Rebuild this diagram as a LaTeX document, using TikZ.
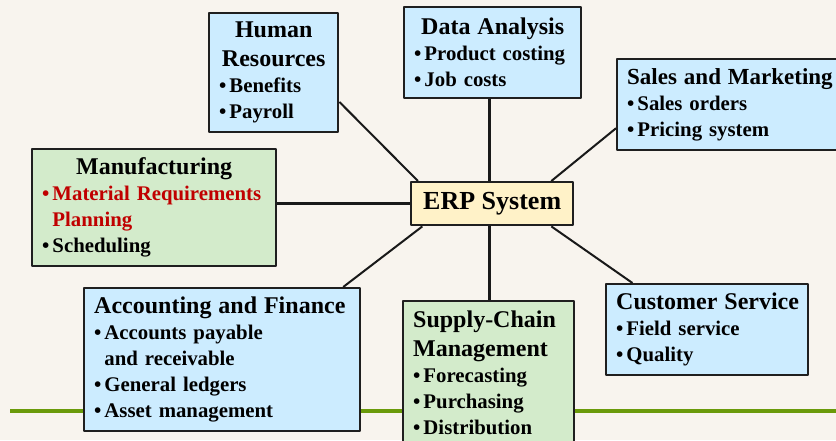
\documentclass[tikz,border=0pt]{standalone}
\usepackage{fontspec}
\setmainfont{Liberation Serif}

\definecolor{paper}{HTML}{F8F4EE}
\definecolor{modblue}{HTML}{CCECFF}
\definecolor{modgreen}{HTML}{D3EBCB}
\definecolor{erpyellow}{HTML}{FFF2C8}
\definecolor{mrpred}{HTML}{C00000}
\definecolor{rulegreen}{HTML}{6A9A0A}

\newcommand\itm{\textbullet\hspace{1.5pt}}
\newcommand\headfont{\fontsize{12}{14.5}\selectfont}

\tikzset{
    module/.style={draw=black!88, line width=1.2pt, anchor=north west, align=left,
        inner xsep=5pt, inner ysep=2pt, font=\bfseries\fontsize{10.4}{13}\selectfont},
    bluemod/.style={module, fill=modblue},
    greenmod/.style={module, fill=modgreen},
    thinlink/.style={line width=1pt, black!90},
    thicklink/.style={line width=1.7pt, black!90},
}

\begin{document}
\begin{tikzpicture}[x=0.5pt, y=-0.5pt, line join=round]

    % page and the green rule under the modules
    \useasboundingbox[fill=paper] (0,0) rectangle (836,440);
    \coordinate (rule-l) at (10,411);
    \coordinate (rule-r) at (836,411);
    \draw[rulegreen, line width=2pt] (rule-l) -- (rule-r);

    % centre
    \node[draw=black!88, line width=1.2pt, fill=erpyellow, anchor=north west,
          minimum width=81pt, minimum height=21.5pt, inner sep=0pt,
          font=\bfseries\fontsize{13}{15}\selectfont] (erp) at (410,181) {ERP System};

    % modules (top-left corner, width and height in pt)
    \node[bluemod, text width=54.5pt, minimum height=59.5pt] (hr) at (208,12)
        {{\headfont\centering Human\\Resources\par}
         \itm Benefits\\
         \itm Payroll};
    \node[bluemod, text width=78.5pt, minimum height=45.5pt] (da) at (403,6)
        {{\headfont\centering Data Analysis\par}
         \itm Product costing\\
         \itm Job costs};
    \node[bluemod, text width=110pt, minimum height=45.5pt] (sm) at (616,58)
        {{\fontsize{11.5}{14.5}\selectfont Sales and Marketing\par}
         \itm Sales orders\\
         \itm Pricing system};
    \node[greenmod, text width=112pt, minimum height=58.5pt] (mfg) at (31,148)
        {{\headfont\centering Manufacturing\par}
         {\color{mrpred}\itm Material~Requirements\\
         \phantom{\itm}Planning}\\
         \itm Scheduling};
    \node[bluemod, text width=128pt, minimum height=71.5pt] (acc) at (83,287)
        {{\headfont Accounting and Finance\par}
         \itm Accounts payable\\
         \phantom{\itm}and receivable\\
         \itm General ledgers\\
         \itm Asset management};
    \node[greenmod, text width=75.5pt, minimum height=72pt] (scm) at (402,300)
        {{\headfont Supply-Chain\\Management\par}
         \itm Forecasting\\
         \itm Purchasing\\
         \itm Distribution};
    \node[bluemod, text width=91pt, minimum height=45.5pt] (cs) at (605,283)
        {{\headfont\mbox{Customer Service}\par}
         \itm Field service\\
         \itm Quality};

    % links to the centre
    \draw[thinlink] (hr.-24) -- (erp.163);
    \draw[thicklink] ([xshift=-1.5pt]erp.north) -- ([xshift=-1.5pt]erp.north |- da.south);
    \draw[thinlink] (sm.191.5) -- (erp.21.7);
    \draw[thicklink] (mfg.east |- erp.west) -- (erp.west);
    \draw[thinlink] (acc.31.4) -- (erp.198);
    \draw[thicklink] ([xshift=-1.5pt]erp.south) -- ([xshift=-1.5pt]erp.south |- scm.north);
    \draw[thinlink] (cs.148.9) -- (erp.-21.7);
\end{tikzpicture}
\end{document}
